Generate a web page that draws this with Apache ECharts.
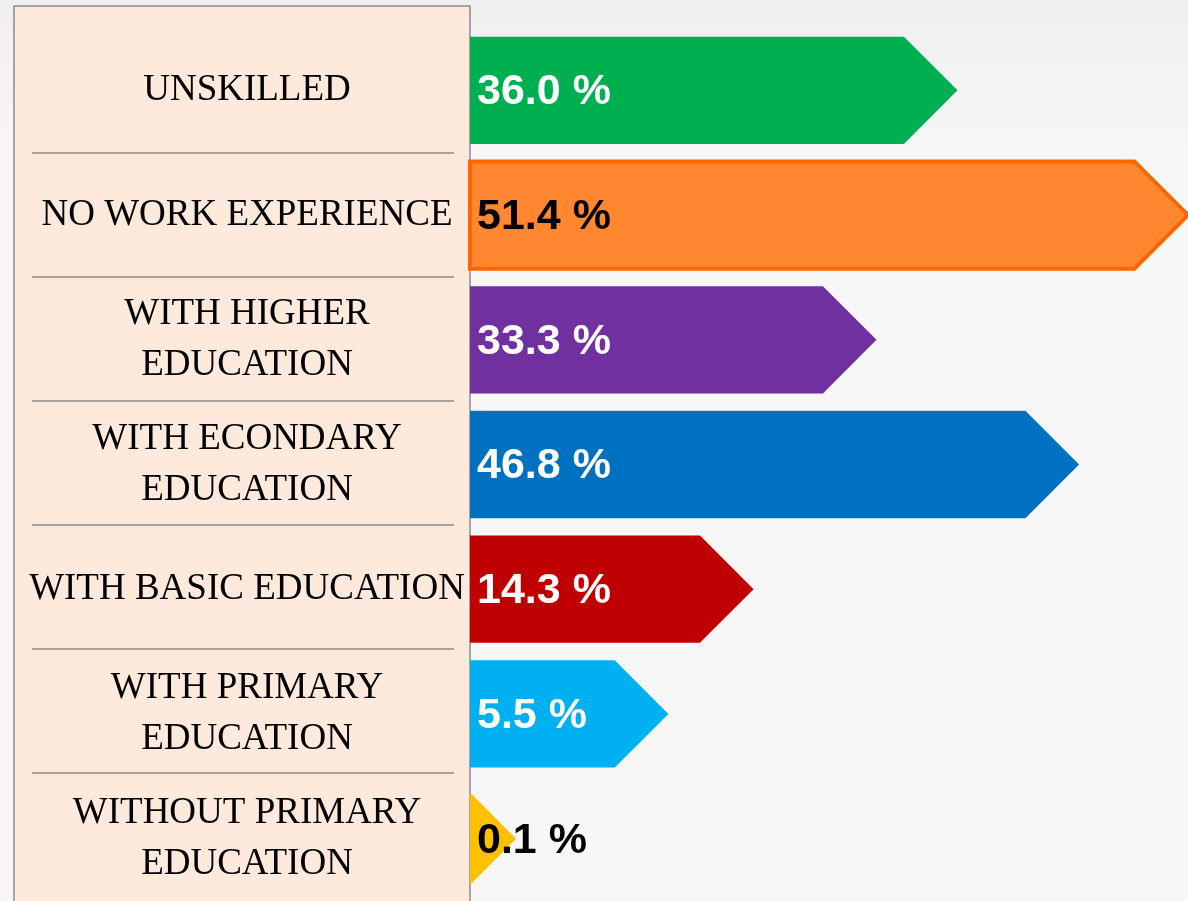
<!DOCTYPE html>
<html>
<head>
<meta charset="utf-8">
<script src="https://cdn.jsdelivr.net/npm/echarts@6/dist/echarts.min.js"></script>
<style>
  html, body { margin: 0; padding: 0; }
  #main { width: 1188px; height: 901px; }
</style>
</head>
<body>
<div id="main"></div>
<script>
  // categories, top to bottom
  var categories = [
    'UNSKILLED',
    'NO WORK EXPERIENCE',
    'WITH HIGHER\nEDUCATION',
    'WITH ECONDARY\nEDUCATION',
    'WITH BASIC EDUCATION',
    'WITH PRIMARY\nEDUCATION',
    'WITHOUT PRIMARY\nEDUCATION'
  ]
  // shown percentages
  var percents = [36.0, 51.4, 33.3, 46.8, 14.3, 5.5, 0.1]
  // arrow length as drawn in the infographic (not to scale with the percents)
  var arrowLength = [34.9, 51.4, 29.1, 43.6, 20.3, 14.2, 3.3]
  var fillColors = ['#00b050', '#ff8730', '#7030a0', '#0070c0', '#c00000', '#00b0f0', '#ffc000']
  var labelColors = ['#fff', '#000', '#fff', '#fff', '#fff', '#fff', '#000']

  var myChart = echarts.init(document.getElementById('main'))

  function renderArrow(params, api) {
    var len = api.value(0)
    var idx = api.value(1)
    var start = api.coord([0, idx])
    var tip = api.coord([len, idx])
    var half = api.size([0, 1])[1] * 0.43
    var cy = start[1]
    var wing = Math.min(half, tip[0] - start[0])
    var neck = tip[0] - wing
    var pts = [
      [start[0], cy - wing],
      [neck, cy - wing],
      [tip[0], cy],
      [neck, cy + wing],
      [start[0], cy + wing]
    ]
    var isOrange = idx === 1
    return {
      type: 'group',
      children: [
        {
          type: 'polygon',
          shape: { points: pts },
          style: {
            fill: fillColors[idx],
            stroke: isOrange ? '#ff6600' : null,
            lineWidth: isOrange ? 4 : 0
          }
        },
        {
          type: 'text',
          style: {
            text: percents[idx].toFixed(1) + ' %',
            x: start[0] + 7,
            y: cy + 2,
            verticalAlign: 'middle',
            align: 'left',
            fill: labelColors[idx],
            font: 'bold 43px "Liberation Sans", Arial, sans-serif'
          }
        }
      ]
    }
  }

  myChart.setOption({
    animation: false,
    backgroundColor: {
      type: 'linear', x: 0, y: 0, x2: 0, y2: 1,
      colorStops: [
        { offset: 0, color: '#efefef' },
        { offset: 0.18, color: '#f7f7f7' },
        { offset: 1, color: '#f7f7f7' }
      ]
    },
    graphic: [
      {
        type: 'rect',
        z: -1,
        shape: { x: 14, y: 6, width: 456, height: 910 },
        style: { fill: '#fdeadd', stroke: '#8c8c8c', lineWidth: 1.5 }
      }
    ],
    grid: [
      { left: 470, right: 0, top: 28, height: 875 },
      { left: 32, width: 422, top: 29, height: 868 }
    ],
    xAxis: [
      { type: 'value', gridIndex: 0, min: 0, max: 51.4, show: false },
      { type: 'value', gridIndex: 1, min: 0, max: 1, show: false }
    ],
    yAxis: [
      {
        type: 'category',
        gridIndex: 0,
        inverse: true,
        data: categories,
        axisLine: { show: false },
        axisTick: { show: false },
        splitLine: { show: false },
        axisLabel: {
          margin: 223,
          align: 'center',
          color: '#000',
          fontFamily: '"Liberation Serif", "Times New Roman", serif',
          fontSize: 37,
          lineHeight: 51
        }
      },
      {
        type: 'category',
        gridIndex: 1,
        inverse: true,
        data: categories,
        axisLine: { show: false },
        axisTick: { show: false },
        axisLabel: { show: false },
        splitLine: {
          show: true,
          showMinLine: false,
          showMaxLine: false,
          lineStyle: { color: '#8c8c8c', width: 1.5 }
        }
      }
    ],
    series: [
      {
        type: 'custom',
        xAxisIndex: 0,
        yAxisIndex: 0,
        renderItem: renderArrow,
        encode: { x: 0, y: 1 },
        data: arrowLength.map(function (l, i) { return [l, i] })
      }
    ]
  })
</script>
</body>
</html>
